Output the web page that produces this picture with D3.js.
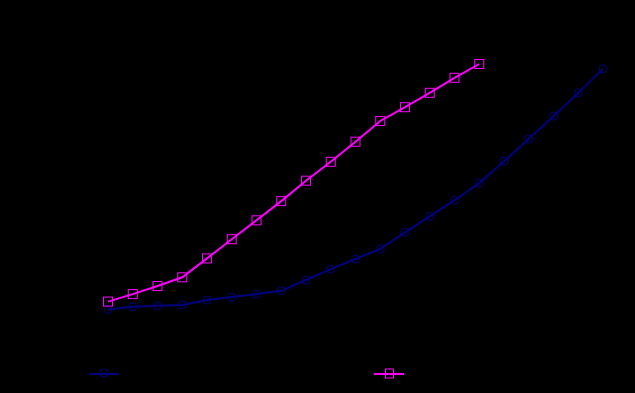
<!DOCTYPE html>
<html>
<head>
<meta charset="utf-8">
<script src="https://cdn.jsdelivr.net/npm/d3@7"></script>
<style>
  html, body { margin: 0; padding: 0; background: #000; }
  svg { display: block; }
</style>
</head>
<body>
<svg id="chart" width="635" height="393"></svg>
<script>
// Data
const xNavy = [1,2,3,4,5,6,7,8,9,10,11,12,13,14,15,16,17,18,19,20,21];
const yNavy = [10.2,11.1,11.4,11.7,13.3,14.3,15.3,16.4,20.0,23.6,27.0,30.4,35.9,41.2,46.6,52.3,59.6,67.0,74.6,82.3,90.4];
const xMagenta = [1,2,3,4,5,6,7,8,9,10,11,12,13,14,15,16];
const yMagenta = [12.8,15.3,18.0,20.9,27.2,33.6,39.9,46.3,53.1,59.4,66.1,73.0,77.6,82.4,87.4,92.0];
const xTicks = [0,5,10,15,20];
const yTicks = [0,20,40,60,80,100];

const svg = d3.select("#chart");
const W = 635, H = 393;
svg.append("rect").attr("width", W).attr("height", H).attr("fill", "#000");

const x = d3.scaleLinear().domain([0, 22]).range([83.25, 627.75]);
const y = d3.scaleLinear().domain([0, 100]).range([340, 40]);

// Axes (black on black, as in the reference)
const gx = svg.append("g").attr("transform", `translate(0,${y(0)})`)
  .call(d3.axisBottom(x).tickValues(xTicks));
const gy = svg.append("g").attr("transform", `translate(${x(0)},0)`)
  .call(d3.axisLeft(y).tickValues(yTicks));
[gx, gy].forEach(g => {
  g.selectAll("path,line").attr("stroke", "#000");
  g.selectAll("text").attr("fill", "#000");
});

const navy = "#000080";
const magenta = "#ff00ff";

const line = d3.line().x(d => x(d[0])).y(d => y(d[1]));
const navyData = xNavy.map((v, i) => [v, yNavy[i]]);
const magData = xMagenta.map((v, i) => [v, yMagenta[i]]);

svg.append("path").datum(navyData).attr("d", line)
  .attr("fill", "none").attr("stroke", navy).attr("stroke-width", 2);
svg.append("g").selectAll("circle").data(navyData).join("circle")
  .attr("cx", d => x(d[0])).attr("cy", d => y(d[1])).attr("r", 4)
  .attr("fill", "none").attr("stroke", navy).attr("stroke-width", 1);

svg.append("path").datum(magData).attr("d", line)
  .attr("fill", "none").attr("stroke", magenta).attr("stroke-width", 2);
svg.append("g").selectAll("rect").data(magData).join("rect")
  .attr("x", d => x(d[0]) - 4.5).attr("y", d => y(d[1]) - 4.5)
  .attr("width", 9).attr("height", 9)
  .attr("fill", "none").attr("stroke", magenta).attr("stroke-width", 1);

// Legend
const leg = svg.append("g");
leg.append("line").attr("x1", 89).attr("x2", 119).attr("y1", 374).attr("y2", 374)
  .attr("stroke", navy).attr("stroke-width", 2);
leg.append("circle").attr("cx", 104).attr("cy", 373).attr("r", 4)
  .attr("fill", "none").attr("stroke", navy).attr("stroke-width", 1);
leg.append("line").attr("x1", 374).attr("x2", 404).attr("y1", 374).attr("y2", 374)
  .attr("stroke", magenta).attr("stroke-width", 2);
leg.append("rect").attr("x", 385.5).attr("y", 369).attr("width", 8).attr("height", 9)
  .attr("fill", "none").attr("stroke", magenta).attr("stroke-width", 1);
</script>
</body>
</html>
